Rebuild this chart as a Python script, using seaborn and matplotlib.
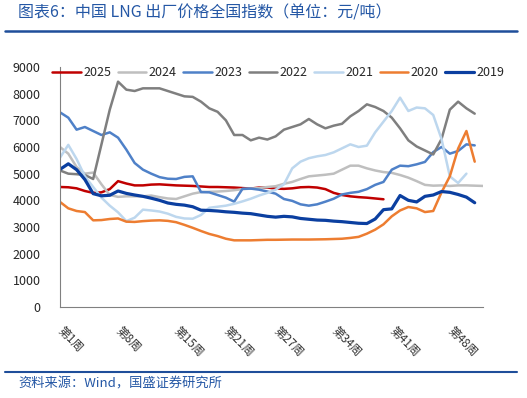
import numpy as np
import pandas as pd
import seaborn as sns
import matplotlib.pyplot as plt
from matplotlib.lines import Line2D

# semaines (axe des x)
weeks = list(range(1, 53))
tick_weeks = [1, 8, 15, 21, 27, 34, 41, 48]
tick_labels = ['第%d周' % w for w in tick_weeks]

# prix LNG (元/吨)
y2025 = [4500, 4490, 4450, 4350, 4280, 4300, 4420, 4720, 4630, 4560,
         4560, 4590, 4600, 4580, 4560, 4550, 4540, 4520, 4500, 4500,
         4490, 4480, 4460, 4440, 4480, 4480, 4440, 4430, 4450, 4490,
         4500, 4480, 4420, 4280, 4200, 4150, 4120, 4100, 4070, 4040]
y2024 = [6000, 5750, 5250, 5000, 5040, 4600, 4200, 4130, 4150, 4150,
         4150, 4180, 4120, 4070, 4050, 4150, 4250, 4310, 4320, 4330,
         4350, 4380, 4420, 4440, 4460, 4500, 4530, 4620, 4690, 4800,
         4900, 4930, 4960, 5000, 5150, 5300, 5300, 5200, 5120, 5060,
         5030, 4950, 4850, 4720, 4580, 4550, 4560, 4540, 4560, 4560,
         4550, 4540]
y2023 = [7300, 7100, 6650, 6750, 6600, 6450, 6550, 6350, 5900, 5400,
         5150, 5000, 4870, 4810, 4800, 4880, 4900, 4310, 4300, 4200,
         4100, 3950, 4430, 4440, 4400, 4330, 4250, 4050, 3980, 3850,
         3800, 3850, 3950, 4060, 4220, 4280, 4320, 4420, 4580, 4690,
         5150, 5300, 5280, 5350, 5440, 5810, 6000, 5750, 5850, 6100,
         6060]
y2022 = [5120, 5000, 4980, 4950, 4800, 6100, 7400, 8450, 8150, 8100,
         8200, 8200, 8200, 8100, 8000, 7900, 7880, 7700, 7450, 7320,
         7000, 6450, 6450, 6250, 6350, 6280, 6400, 6650, 6750, 6850,
         7050, 6850, 6700, 6800, 6870, 7150, 7350, 7600, 7500, 7350,
         7100, 6700, 6250, 6020, 5870, 5720, 6300, 7400, 7700, 7450,
         7250]
y2021 = [5600, 6080, 5550, 4900, 4500, 4100, 3800, 3550, 3220, 3350,
         3650, 3620, 3580, 3500, 3380, 3320, 3310, 3450, 3720, 3760,
         3800, 3870, 3960, 4060, 4180, 4280, 4400, 4600, 5200, 5450,
         5580, 5650, 5700, 5800, 5950, 6100, 6000, 6050, 6550, 6950,
         7350, 7850, 7350, 7480, 7450, 7200, 6300, 4900, 4650, 5000]
y2020 = [3940, 3700, 3600, 3560, 3250, 3260, 3300, 3320, 3200, 3190,
         3220, 3240, 3250, 3230, 3180, 3080, 2970, 2850, 2740, 2660,
         2560, 2500, 2500, 2500, 2510, 2520, 2520, 2525, 2530, 2530,
         2530, 2535, 2540, 2550, 2560, 2590, 2630, 2750, 2900, 3100,
         3400, 3620, 3750, 3700, 3560, 3600, 4300, 4900, 5940, 6600,
         5450]
y2019 = [5160, 5370, 5150, 4780, 4250, 4170, 4190, 4350, 4260, 4200,
         4150, 4080, 4000, 3900, 3850, 3820, 3760, 3630, 3620, 3600,
         3570, 3550, 3520, 3500, 3450, 3400, 3370, 3400, 3380, 3320,
         3290, 3260, 3250, 3220, 3200, 3170, 3140, 3130, 3300, 3650,
         3680, 4180, 4000, 3940, 4150, 4200, 4330, 4300, 4220, 4120,
         3910]

series = [('2025', y2025, '#C00000', 1.8),
          ('2024', y2024, '#BFBFBF', 1.8),
          ('2023', y2023, '#4F81C8', 1.8),
          ('2022', y2022, '#7F7F7F', 1.8),
          ('2021', y2021, '#BDD7EE', 1.8),
          ('2020', y2020, '#ED7D31', 1.8),
          ('2019', y2019, '#0B3FA0', 2.3)]

sns.set_style('white')
plt.rcParams['font.family'] = ['Noto Sans CJK SC', 'DejaVu Sans']

fig = plt.figure(figsize=(5.27, 3.98), dpi=100)
ax = fig.add_axes([60/527, 1-307/398, 423/527, 240/398])

for name, vals, col, lw in series:
    df = pd.DataFrame({'semaine': weeks[:len(vals)], 'prix': vals})
    sns.lineplot(data=df, x='semaine', y='prix', ax=ax, color=col, linewidth=lw, label=name)

handles, labels = ax.get_legend_handles_labels()
ax.get_legend().remove()
fig.legend(handles, labels, ncol=7, loc='center', bbox_to_anchor=(0.528, 1-73/398),
           frameon=False, handlelength=2.3, columnspacing=0.5, handletextpad=0.2, fontsize=9)

ax.set_xlim(1, 52)
ax.set_ylim(0, 9000)
ax.set_yticks(range(0, 9001, 1000))
ax.set_xticks(tick_weeks)
ax.set_xticklabels(tick_labels, rotation=-45, ha='left', va='center', rotation_mode='anchor')
ax.set_xticks(np.arange(1, 52.01, 0.25), minor=True)
ax.tick_params(axis='x', which='both', length=4, color='#A0A0A0', width=0.6, labelsize=8.5, labelcolor='#333333')
ax.tick_params(axis='x', which='major', pad=12)
ax.tick_params(axis='y', length=4, color='#808080', width=0.8, labelsize=9, pad=10)
ax.set_xlabel('')
ax.set_ylabel('')
for s in ['top', 'right']:
    ax.spines[s].set_visible(False)
for s in ['left', 'bottom']:
    ax.spines[s].set_color('#808080')
    ax.spines[s].set_linewidth(0.8)

# titre et source
fig.text(18/527, 1-13/398, '图表6：中国 LNG 出厂价格全国指数（单位：元/吨）', color='#2457A5',
         fontsize=11.5, style='italic', va='center')
fig.add_artist(Line2D([5/527, 517/527], [1-31/398, 1-31/398], color='#1F4E9A', lw=1.8))
fig.add_artist(Line2D([5/527, 517/527], [1-372/398, 1-372/398], color='#1F4E9A', lw=1.5))
fig.text(18/527, 1-384/398, '资料来源：Wind，国盛证券研究所', color='#2457A5',
         fontsize=9.5, style='italic', va='center')

plt.savefig('out.png', dpi=100)
